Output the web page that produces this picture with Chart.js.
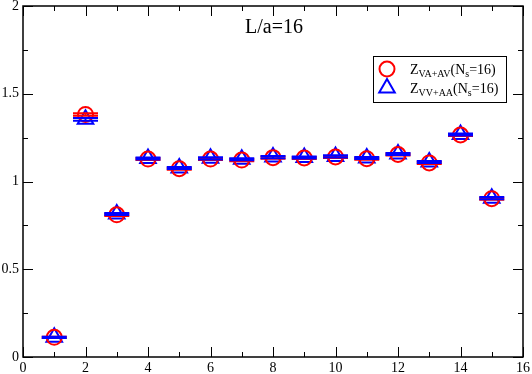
<!DOCTYPE html>
<html><head><meta charset="utf-8">
<script src="https://cdn.jsdelivr.net/npm/chart.js@4/dist/chart.umd.min.js"></script>
<style>html,body{margin:0;padding:0;background:#fff;}#wrap{width:532px;height:374px;}</style>
</head><body><div id="wrap"><canvas id="c" width="532" height="374"></canvas></div>
<script>
const xs = [1,2,3,4,5,6,7,8,9,10,11,12,13,14,15];
const vaav = [0.112,1.382,0.810,1.128,1.073,1.128,1.122,1.136,1.134,1.140,1.130,1.154,1.106,1.265,0.902];
const vaavErr = [0.004,0.007,0.006,0.006,0.006,0.006,0.006,0.006,0.006,0.006,0.006,0.006,0.006,0.006,0.006];
const vvaa = [0.112,1.354,0.815,1.131,1.077,1.132,1.127,1.139,1.137,1.143,1.134,1.157,1.111,1.268,0.905];
const vvaaErr = [0.004,0.008,0.006,0.006,0.006,0.006,0.006,0.006,0.006,0.006,0.006,0.006,0.006,0.006,0.006];
const xTicks = [0,2,4,6,8,10,12,14,16];
const xTickLabels = ['0','2','4','6','8','10','12','14','16'];
const yTicks = [0,0.5,1,1.5,2];
const yTickLabels = ['0','0.5','1','1.5','2'];
const titleText = 'L/a=16';
const legendLabels = [['Z','VA+AV','(N','s','=16)'],['Z','VV+AA','(N','s','=16)']];
const colors = ['#ff0000','#0000ff'];

const serif = '"Liberation Serif", "DejaVu Serif", serif';

const errPlugin = {
  id:'err',
  afterDatasetsDraw(chart){
    const ctx = chart.ctx, xS = chart.scales.x, yS = chart.scales.y;
    const sets = [[vaav,vaavErr,colors[0]],[vvaa,vvaaErr,colors[1]]];
    sets.forEach(([vals,errs,col])=>{
      ctx.save(); ctx.strokeStyle=col; ctx.lineWidth=2;
      vals.forEach((v,i)=>{
        const px = xS.getPixelForValue(xs[i]);
        const y1 = yS.getPixelForValue(v+errs[i]), y2 = yS.getPixelForValue(v-errs[i]);
        ctx.beginPath();
        ctx.moveTo(px,y1); ctx.lineTo(px,y2);
        ctx.moveTo(px-12.5,y1); ctx.lineTo(px+12.5,y1);
        ctx.moveTo(px-12.5,y2); ctx.lineTo(px+12.5,y2);
        ctx.stroke();
      });
      ctx.restore();
    });
  }
};

const framePlugin = {
  id:'frame',
  afterDraw(chart){
    const ctx = chart.ctx, a = chart.chartArea, xS = chart.scales.x, yS = chart.scales.y;
    ctx.save();
    ctx.strokeStyle='#000'; ctx.lineWidth=1.5;
    ctx.strokeRect(a.left,a.top,a.right-a.left,a.bottom-a.top);
    ctx.lineWidth=1;
    ctx.beginPath();
    for(let v=0; v<=16; v++){
      const px = Math.round(xS.getPixelForValue(v))+0.5;
      const len = (v%2===0)?10:5;
      ctx.moveTo(px,a.bottom); ctx.lineTo(px,a.bottom-len);
      ctx.moveTo(px,a.top); ctx.lineTo(px,a.top+len);
    }
    for(let k=0; k<=8; k++){
      const v = k*0.25;
      const py = Math.round(yS.getPixelForValue(v))+0.5;
      const len = (k%2===0)?10:5;
      ctx.moveTo(a.left,py); ctx.lineTo(a.left+len,py);
      ctx.moveTo(a.right,py); ctx.lineTo(a.right-len,py);
    }
    ctx.stroke();
    // tick labels
    ctx.fillStyle='#000';
    ctx.font='14px '+serif;
    ctx.textAlign='center'; ctx.textBaseline='alphabetic';
    xTicks.forEach((v,i)=>{ ctx.fillText(xTickLabels[i], xS.getPixelForValue(v), a.bottom+15); });
    ctx.textAlign='right'; ctx.textBaseline='middle';
    yTicks.forEach((v,i)=>{ ctx.fillText(yTickLabels[i], a.left-4, yS.getPixelForValue(v)); });
    // title
    ctx.font = '20px '+serif;
    ctx.textAlign='center'; ctx.textBaseline='alphabetic';
    ctx.fillText(titleText,(a.left+a.right)/2+1,33);
    // legend
    const bx=373, by=56, bw=133, bh=46;
    ctx.lineWidth=1;
    ctx.strokeRect(bx+0.5,by+0.5,bw,bh);
    legendLabels.forEach((parts,i)=>{
      const cy = by+13+i*19;
      const sx = 387;
      ctx.strokeStyle=colors[i]; ctx.lineWidth=2;
      ctx.beginPath();
      if(i===0){ ctx.arc(sx,cy,7.5,0,Math.PI*2); }
      else { const r=9; ctx.moveTo(sx,cy-r); ctx.lineTo(sx+r*0.866,cy+r*0.5); ctx.lineTo(sx-r*0.866,cy+r*0.5); ctx.closePath(); }
      ctx.stroke();
      let tx = 410; const base = cy+5;
      ctx.textAlign='left'; ctx.fillStyle='#000';
      parts.forEach((p,j)=>{
        const sub = (j%2===1);
        ctx.font = (sub?'10px ':'14px ')+serif;
        ctx.fillText(p,tx,base+(sub?3:0));
        tx += ctx.measureText(p).width;
      });
    });
    ctx.restore();
  }
};

new Chart(document.getElementById('c'),{
  type:'scatter',
  data:{datasets:[
    {label:'VA+AV', data:xs.map((x,i)=>({x:x,y:vaav[i]})), pointStyle:'circle', pointRadius:7.5, pointHoverRadius:7.5, borderColor:colors[0], backgroundColor:'rgba(0,0,0,0)', pointBorderWidth:2},
    {label:'VV+AA', data:xs.map((x,i)=>({x:x,y:vvaa[i]})), pointStyle:'triangle', pointRadius:9, pointHoverRadius:9, borderColor:colors[1], backgroundColor:'rgba(0,0,0,0)', pointBorderWidth:2}
  ]},
  options:{
    responsive:false, animation:false, devicePixelRatio:1,
    layout:{padding:{top:6,right:9,left:0,bottom:0},autoPadding:false},
    plugins:{legend:{display:false},tooltip:{enabled:false},title:{display:false}},
    scales:{
      x:{type:'linear',min:0,max:16,
        afterFit:s=>{s.height=17;},
        grid:{display:false},border:{display:false},
        ticks:{display:false}},
      y:{type:'linear',min:0,max:2,
        afterFit:s=>{s.width=23;},
        grid:{display:false},border:{display:false},
        ticks:{display:false}}
    }
  },
  plugins:[errPlugin,framePlugin]
});
</script></body></html>
